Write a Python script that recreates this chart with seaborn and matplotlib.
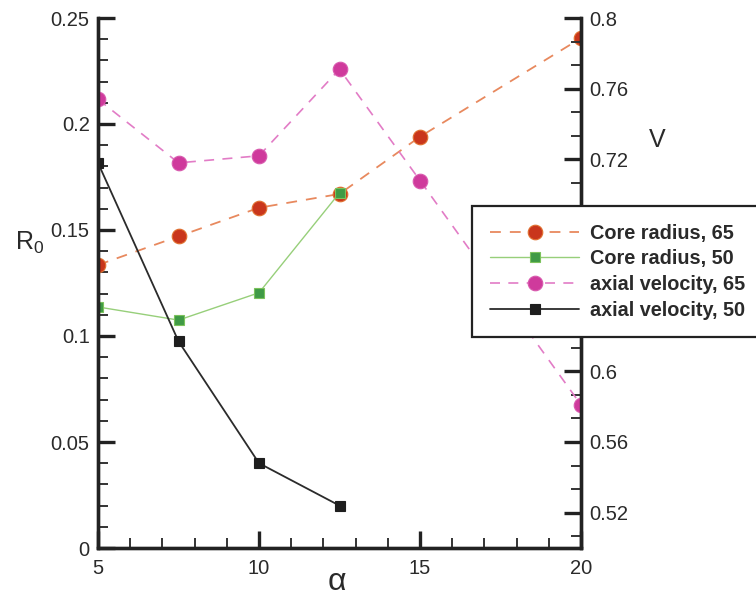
import matplotlib
matplotlib.use("Agg")
import matplotlib.pyplot as plt
import pandas as pd
import seaborn as sns
from matplotlib.ticker import FixedLocator

# Angle of attack for each series
alpha_65 = [5, 7.5, 10, 12.5, 15, 20]
alpha_50 = [5, 7.5, 10, 12.5]

# Core radius R0 (left axis)
core_radius_65 = [0.1335, 0.147, 0.1605, 0.167, 0.194, 0.2405]
core_radius_50 = [0.1137, 0.1075, 0.1204, 0.1675]

# Axial velocity V (right axis)
axial_velocity_65 = [0.754, 0.718, 0.722, 0.771, 0.708, 0.581]
axial_velocity_50 = [0.718, 0.617, 0.548, 0.524]

labels = ["Core radius, 65", "Core radius, 50",
          "axial velocity, 65", "axial velocity, 50"]

x_ticks = [5, 10, 15, 20]
x_tick_labels = ["5", "10", "15", "20"]
r_ticks = [0, 0.05, 0.1, 0.15, 0.2, 0.25]
r_tick_labels = ["0", "0.05", "0.1", "0.15", "0.2", "0.25"]
v_ticks = [0.52, 0.56, 0.6, 0.64, 0.68, 0.72, 0.76, 0.8]
v_tick_labels = ["0.52", "0.56", "0.6", "0.64", "0.68", "0.72", "0.76", "0.8"]

sns.set_theme(style="ticks")
plt.rcParams["font.family"] = ["Liberation Sans", "DejaVu Sans"]
plt.rcParams["mathtext.default"] = "regular"
text_color = "#2a2a2a"

fig = plt.figure(figsize=(7.56, 5.98), dpi=100)
fig.patch.set_facecolor("white")
ax = fig.add_axes([98 / 756, 1 - 548 / 598, 483 / 756, 530 / 598])
ax2 = ax.twinx()

df_r65 = pd.DataFrame({"alpha": alpha_65, "val": core_radius_65})
df_r50 = pd.DataFrame({"alpha": alpha_50, "val": core_radius_50})
df_v65 = pd.DataFrame({"alpha": alpha_65, "val": axial_velocity_65})
df_v50 = pd.DataFrame({"alpha": alpha_50, "val": axial_velocity_50})

sns.lineplot(data=df_r65, x="alpha", y="val", ax=ax, sort=False, estimator=None,
             color="#e8895e", linestyle=(0, (6, 5)), linewidth=1.3,
             marker="o", markersize=10.5, markerfacecolor="#c9361c",
             markeredgecolor="#e07030", markeredgewidth=0.8, label=labels[0])
sns.lineplot(data=df_r50, x="alpha", y="val", ax=ax, sort=False, estimator=None,
             color="#97cf7a", linestyle="-", linewidth=1.0,
             marker="s", markersize=6.5, markerfacecolor="#3f9a45",
             markeredgecolor="#7cc25c", markeredgewidth=0.8, label=labels[1])
sns.lineplot(data=df_v65, x="alpha", y="val", ax=ax2, sort=False, estimator=None,
             color="#e27cc6", linestyle=(0, (6, 5)), linewidth=1.2,
             marker="o", markersize=10.5, markerfacecolor="#cf3a9c",
             markeredgecolor="#d85aae", markeredgewidth=0.8, label=labels[2])
sns.lineplot(data=df_v50, x="alpha", y="val", ax=ax2, sort=False, estimator=None,
             color="#2b2b2b", linestyle="-", linewidth=1.3,
             marker="s", markersize=7.5, markerfacecolor="#1e1e1e",
             markeredgecolor="#1e1e1e", markeredgewidth=0.8, label=labels[3])

handles = [ax.lines[0], ax.lines[1], ax2.lines[0], ax2.lines[1]]
for a in (ax, ax2):
    lg = a.get_legend()
    if lg is not None:
        lg.remove()

ax.set_xticks(x_ticks, x_tick_labels)
ax.xaxis.set_minor_locator(FixedLocator(range(5, 21)))
ax.set_yticks(r_ticks, r_tick_labels)
ax.yaxis.set_minor_locator(FixedLocator([i * 0.01 for i in range(26)]))
ax2.set_yticks(v_ticks, v_tick_labels)
ax2.yaxis.set_minor_locator(FixedLocator([0.52 + (i - 1) * 0.04 / 3 for i in range(23)]))
ax.set_xlim(5, 20)
ax.set_ylim(0, 0.25)
ax2.set_ylim(0.5, 0.8)

for a in (ax, ax2):
    a.set_xlabel("")
    a.set_ylabel("")
    a.spines["top"].set_visible(False)
    for s in ("left", "right", "bottom"):
        a.spines[s].set_linewidth(2.4)
        a.spines[s].set_color("#222222")
    a.tick_params(which="major", direction="in", length=12, width=2.4,
                  color="#222222", labelsize=14.5, labelcolor=text_color, pad=6)
    a.tick_params(which="minor", direction="in", length=7, width=1.4,
                  color="#333333")
    a.patch.set_visible(False)

ax.tick_params(axis="x", which="major", pad=8)

# Axis titles
fig.text(15 / 756, 1 - 243 / 598, "R$_0$", fontsize=18, color=text_color,
         ha="left", va="center")
fig.text(657 / 756, 1 - 140 / 598, "V", fontsize=18, color=text_color,
         ha="center", va="center")
fig.text(337 / 756, 1 - 582 / 598, "α", fontsize=23, color=text_color,
         ha="center", va="center")

leg = ax2.legend(handles, labels, loc="upper left",
                 bbox_to_anchor=((472 - 98) / 483, (548 - 206) / 530),
                 frameon=True, fancybox=False, framealpha=1,
                 edgecolor="#222222", borderpad=0.9, labelspacing=0.33,
                 handlelength=4.5, handletextpad=0.55, borderaxespad=0,
                 prop={"weight": "bold", "size": 14.3})
leg.get_frame().set_linewidth(1.6)
for t in leg.get_texts():
    t.set_color(text_color)
leg.set_zorder(10)

fig.savefig("out.png", dpi=100)
